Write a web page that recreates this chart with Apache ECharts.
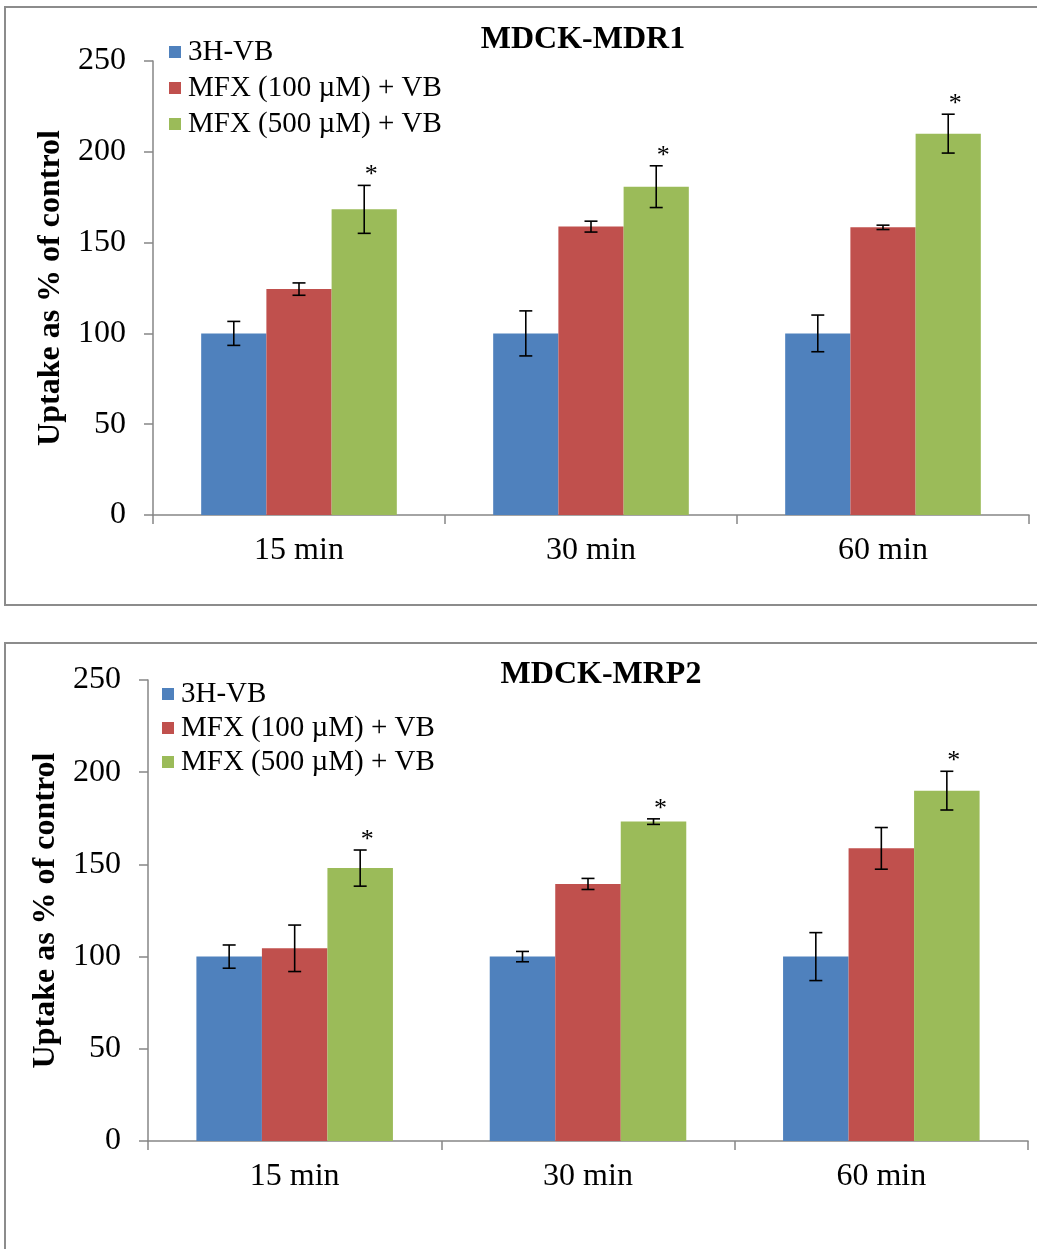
<!DOCTYPE html>
<html>
<head>
<meta charset="utf-8">
<script src="https://cdn.jsdelivr.net/npm/echarts@6/dist/echarts.min.js"></script>
<style>
  html, body { margin: 0; padding: 0; background: #fff; }
  #chart { width: 1037px; height: 1249px; }
</style>
</head>
<body>
<div id="chart"></div>
<script>
// Time points and treatment groups
const categories = ['15 min', '30 min', '60 min'];
const seriesNames = ['3H-VB', 'MFX (100 µM) + VB', 'MFX (500 µM) + VB'];
const yTicks = [0, 50, 100, 150, 200, 250];

// MDCK-MDR1 uptake (% of control) and SD
const mdr1Control = [100, 100, 100];
const mdr1Mfx100 = [124.4, 158.8, 158.4];
const mdr1Mfx500 = [168.3, 180.8, 210.0];
const mdr1ControlErr = [6.6, 12.4, 10.1];
const mdr1Mfx100Err = [3.4, 3.0, 1.2];
const mdr1Mfx500Err = [13.2, 11.5, 10.7];
const mdr1Mfx500Sig = ['*', '*', '*'];

// MDCK-MRP2 uptake (% of control) and SD
const mrp2Control = [100, 100, 100];
const mrp2Mfx100 = [104.5, 139.4, 158.7];
const mrp2Mfx500 = [148.0, 173.2, 190.0];
const mrp2ControlErr = [6.3, 2.8, 13.0];
const mrp2Mfx100Err = [12.6, 3.0, 11.3];
const mrp2Mfx500Err = [9.8, 1.5, 10.5];
const mrp2Mfx500Sig = ['*', '*', '*'];

const colors = ['#4F81BD', '#C0504D', '#9BBB59'];
const FONT = '"Liberation Serif", "Times New Roman", serif';
const AXIS_GRAY = '#868686';
const CAT_GAP = 0.33;

const panels = [
  {
    title: 'MDCK-MDR1',
    values: [mdr1Control, mdr1Mfx100, mdr1Mfx500],
    errors: [mdr1ControlErr, mdr1Mfx100Err, mdr1Mfx500Err],
    marks: [null, null, mdr1Mfx500Sig],
    grid: { left: 153, top: 61, width: 876, height: 454 },
    titlePos: { left: 578, top: 19 },
    legendPos: { left: 164, top: 29, lineHeight: 36 },
    nameGap: 85,
    box: { x: 5, y: 7, width: 1040, height: 598 }
  },
  {
    title: 'MDCK-MRP2',
    values: [mrp2Control, mrp2Mfx100, mrp2Mfx500],
    errors: [mrp2ControlErr, mrp2Mfx100Err, mrp2Mfx500Err],
    marks: [null, null, mrp2Mfx500Sig],
    grid: { left: 148, top: 680, width: 880, height: 461 },
    titlePos: { left: 596, top: 654 },
    legendPos: { left: 157, top: 672, lineHeight: 34 },
    nameGap: 85,
    box: { x: 5, y: 643, width: 1040, height: 620 }
  }
];

const option = {
  animation: false,
  backgroundColor: '#fff',
  title: [],
  legend: [],
  grid: [],
  xAxis: [],
  yAxis: [],
  series: [],
  graphic: []
};

panels.forEach((p, gi) => {
  option.graphic.push({
    type: 'rect',
    shape: p.box,
    style: { fill: 'none', stroke: '#8c8c8c', lineWidth: 2 },
    z: -1
  });
  option.title.push({
    text: p.title,
    left: p.titlePos.left,
    top: p.titlePos.top,
    textAlign: 'center',
    textStyle: { fontFamily: FONT, fontWeight: 'bold', fontSize: 32, color: '#000' }
  });
  option.legend.push({
    data: seriesNames,
    orient: 'vertical',
    left: p.legendPos.left,
    top: p.legendPos.top,
    itemGap: 0,
    icon: 'rect',
    itemWidth: 12,
    itemHeight: 12,
    selectedMode: false,
    textStyle: {
      fontFamily: FONT, fontSize: 29, color: '#000',
      lineHeight: p.legendPos.lineHeight, padding: [0, 0, 0, 2]
    }
  });
  option.grid.push(Object.assign({ containLabel: false }, p.grid));
  option.xAxis.push({
    type: 'category',
    gridIndex: gi,
    data: categories,
    axisLine: { lineStyle: { color: AXIS_GRAY, width: 1.5 } },
    axisTick: { show: true, length: 9, alignWithLabel: false, lineStyle: { color: AXIS_GRAY, width: 1.5 } },
    axisLabel: { fontFamily: FONT, fontSize: 32, color: '#000', margin: 20 }
  });
  option.yAxis.push({
    type: 'value',
    gridIndex: gi,
    min: yTicks[0],
    max: yTicks[yTicks.length - 1],
    interval: yTicks[1] - yTicks[0],
    name: 'Uptake as % of control',
    nameLocation: 'middle',
    nameGap: p.nameGap,
    nameTextStyle: { fontFamily: FONT, fontWeight: 'bold', fontSize: 32, color: '#000' },
    splitLine: { show: false },
    axisLine: { show: true, lineStyle: { color: AXIS_GRAY, width: 1.5 } },
    axisTick: { show: true, length: 9, lineStyle: { color: AXIS_GRAY, width: 1.5 } },
    axisLabel: { fontFamily: FONT, fontSize: 32, color: '#000', margin: 27 }
  });

  p.values.forEach((vals, k) => {
    option.series.push({
      type: 'bar',
      name: seriesNames[k],
      xAxisIndex: gi,
      yAxisIndex: gi,
      data: vals,
      barGap: '0%',
      barCategoryGap: (CAT_GAP * 100) + '%',
      itemStyle: { color: colors[k] }
    });
  });

  // Error bars and significance marks, centred over each bar
  p.values.forEach((vals, k) => {
    const errs = p.errors[k];
    const marks = p.marks[k];
    option.series.push({
      type: 'custom',
      xAxisIndex: gi,
      yAxisIndex: gi,
      z: 5,
      clip: false,
      encode: { x: 0, y: 1 },
      data: vals.map((v, i) => [i, v, errs[i], marks ? marks[i] : '']),
      renderItem: (params, api) => {
        const ci = api.value(0);
        const v = api.value(1);
        const e = api.value(2);
        const mark = marks ? marks[ci] : '';
        const band = api.size([1, 0])[0];
        const barW = band * (1 - CAT_GAP) / 3;
        const x = api.coord([ci, v])[0] + (k - 1) * barW;
        const yTop = api.coord([ci, v + e])[1];
        const yBot = api.coord([ci, v - e])[1];
        const cap = 6.5;
        const ls = { stroke: '#000', lineWidth: 1.6 };
        const children = [
          { type: 'line', shape: { x1: x, y1: yTop, x2: x, y2: yBot }, style: ls },
          { type: 'line', shape: { x1: x - cap, y1: yTop, x2: x + cap, y2: yTop }, style: ls },
          { type: 'line', shape: { x1: x - cap, y1: yBot, x2: x + cap, y2: yBot }, style: ls }
        ];
        if (mark) {
          children.push({
            type: 'text',
            style: {
              text: mark, x: x + 7, y: yTop + 3,
              textAlign: 'center', textVerticalAlign: 'bottom',
              font: '26px ' + FONT, fill: '#000'
            }
          });
        }
        return { type: 'group', children };
      }
    });
  });
});

const chart = echarts.init(document.getElementById('chart'), null, { renderer: 'canvas' });
chart.setOption(option);
</script>
</body>
</html>
